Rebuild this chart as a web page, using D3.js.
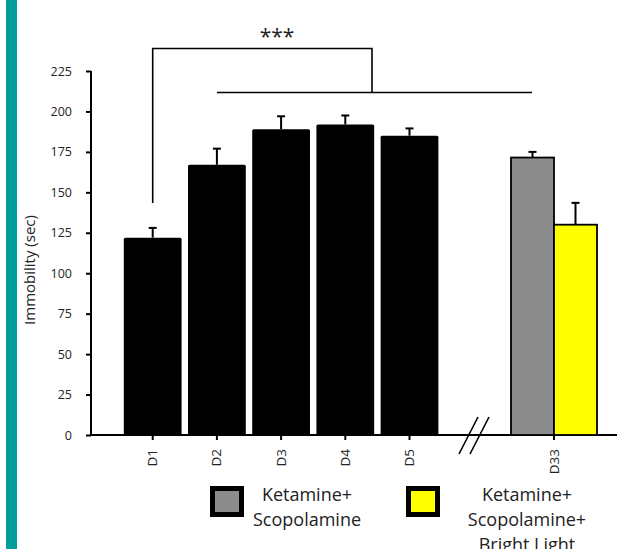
<!DOCTYPE html>
<html>
<head>
<meta charset="utf-8">
<script src="https://cdn.jsdelivr.net/npm/d3@7"></script>
<style>
  body { margin: 0; background: #fff; }
  svg text { font-family: "Open Sans", "Noto Sans", sans-serif; fill: #222; }
</style>
</head>
<body>
<div id="chart"></div>
<script>
// immobility per day (sec)
const days = ["D1", "D2", "D3", "D4", "D5"];
const dayMeans = [122, 167, 189, 192, 185];
const dayErrs = [6, 10, 8, 5.5, 4.5];

// day 33 groups
const groups = ["Ketamine+\nScopolamine", "Ketamine+\nScopolamine+\nBright Light"];
const groupMeans = [171.5, 130];
const groupErrs = [3.5, 13.5];
const groupColors = ["#8c8c8c", "#ffff00"];

const yTicks = [0, 25, 50, 75, 100, 125, 150, 175, 200, 225];

const W = 617, H = 549;

const svg = d3.select("#chart").append("svg")
    .attr("width", W)
    .attr("height", H);

// teal strip down the left side
svg.append("rect")
    .attr("x", 6).attr("y", 0)
    .attr("width", 11).attr("height", H)
    .attr("fill", "#009e98");

const y = d3.scaleLinear().domain([0, 225]).range([435, 71]);

const x = d3.scaleBand()
    .domain(days)
    .range([120.6, 441.6])
    .paddingInner(0.1)
    .paddingOuter(0.05);

const x33 = d3.scalePoint().domain(["D33"]).range([554, 554]);
const xg = d3.scaleBand().domain(groups).range([511, 597]);

// y axis
const yAxis = svg.append("g")
    .attr("transform", "translate(91,0)")
    .call(d3.axisLeft(y).tickValues(yTicks).tickSize(5).tickPadding(14));
yAxis.select(".domain").attr("stroke-width", 2).attr("d", "M0,71V435");
yAxis.selectAll(".tick line").attr("stroke-width", 2);
yAxis.selectAll("text").style("font-size", "12.5px").attr("fill", "#222");

svg.append("text")
    .attr("transform", "translate(35,270) rotate(-90)")
    .attr("text-anchor", "middle")
    .style("font-size", "15px")
    .text("Immobility (sec)");

// x axis line with break
svg.append("line")
    .attr("x1", 90).attr("x2", 617)
    .attr("y1", 435).attr("y2", 435)
    .attr("stroke", "#000").attr("stroke-width", 2);

[0, 11].forEach(dx => {
    svg.append("line")
        .attr("x1", 459 + dx).attr("y1", 454)
        .attr("x2", 478 + dx).attr("y2", 417)
        .attr("stroke", "#000").attr("stroke-width", 1.6);
});

// x ticks + labels
const tickG = svg.append("g");
days.forEach(d => {
    const cx = x(d) + x.bandwidth() / 2;
    tickG.append("line")
        .attr("x1", cx).attr("x2", cx)
        .attr("y1", 435).attr("y2", 440)
        .attr("stroke", "#000").attr("stroke-width", 2);
    tickG.append("text")
        .attr("transform", `translate(${cx + 4.5},449) rotate(-90)`)
        .attr("text-anchor", "end")
        .style("font-size", "13.5px")
        .text(d);
});
const c33 = x33("D33");
tickG.append("line")
    .attr("x1", c33).attr("x2", c33)
    .attr("y1", 435).attr("y2", 440)
    .attr("stroke", "#000").attr("stroke-width", 2);
tickG.append("text")
    .attr("transform", `translate(${c33 + 4.5},449) rotate(-90)`)
    .attr("text-anchor", "end")
    .style("font-size", "13.5px")
    .text("D33");

// error bars (drawn first so bars cover the stem base)
function errBar(cx, m, e) {
    svg.append("line")
        .attr("x1", cx).attr("x2", cx)
        .attr("y1", y(m)).attr("y2", y(m + e))
        .attr("stroke", "#000").attr("stroke-width", 2);
    svg.append("line")
        .attr("x1", cx - 4).attr("x2", cx + 4)
        .attr("y1", y(m + e)).attr("y2", y(m + e))
        .attr("stroke", "#000").attr("stroke-width", 2);
}

days.forEach((d, i) => errBar(x(d) + x.bandwidth() / 2, dayMeans[i], dayErrs[i]));
groups.forEach((g, i) => errBar(xg(g) + xg.bandwidth() / 2, groupMeans[i], groupErrs[i]));

// bars
svg.append("g").selectAll("rect")
    .data(days)
    .join("rect")
    .attr("x", d => x(d))
    .attr("y", (d, i) => y(dayMeans[i]))
    .attr("width", x.bandwidth())
    .attr("height", (d, i) => y(0) - y(dayMeans[i]))
    .attr("rx", 1.5)
    .attr("fill", "#000");

svg.append("g").selectAll("rect")
    .data(groups)
    .join("rect")
    .attr("x", d => xg(d))
    .attr("y", (d, i) => y(groupMeans[i]))
    .attr("width", xg.bandwidth())
    .attr("height", (d, i) => y(0) - y(groupMeans[i]))
    .attr("fill", (d, i) => groupColors[i])
    .attr("stroke", "#000")
    .attr("stroke-width", 1.8);

// significance bracket
const bx1 = x("D1") + x.bandwidth() / 2;
const bx2 = x("D2") + x.bandwidth() / 2;
const bxr = 372, byTop = 48.5, byLow = 92.5;
svg.append("path")
    .attr("d", `M${bx1},203V${byTop}H${bxr}V${byLow}`)
    .attr("fill", "none")
    .attr("stroke", "#000").attr("stroke-width", 1.6);
svg.append("line")
    .attr("x1", bx2).attr("x2", 532)
    .attr("y1", byLow).attr("y2", byLow)
    .attr("stroke", "#000").attr("stroke-width", 1.6);
svg.append("text")
    .attr("x", 277).attr("y", 44)
    .attr("text-anchor", "middle")
    .style("font-size", "21px")
    .text("***");

// legend
const legX = [210, 406];
const legTextX = [307, 527];
groups.forEach((g, i) => {
    svg.append("rect")
        .attr("x", legX[i] + 2.5).attr("y", 488.5)
        .attr("width", 29).attr("height", 26)
        .attr("fill", groupColors[i])
        .attr("stroke", "#000").attr("stroke-width", 5);
    const t = svg.append("text")
        .attr("x", legTextX[i]).attr("y", 501)
        .attr("text-anchor", "middle")
        .style("font-size", "18px");
    g.split("\n").forEach((line, j) => {
        t.append("tspan")
            .attr("x", legTextX[i])
            .attr("dy", j === 0 ? 0 : 25)
            .text(line);
    });
});
</script>
</body>
</html>
